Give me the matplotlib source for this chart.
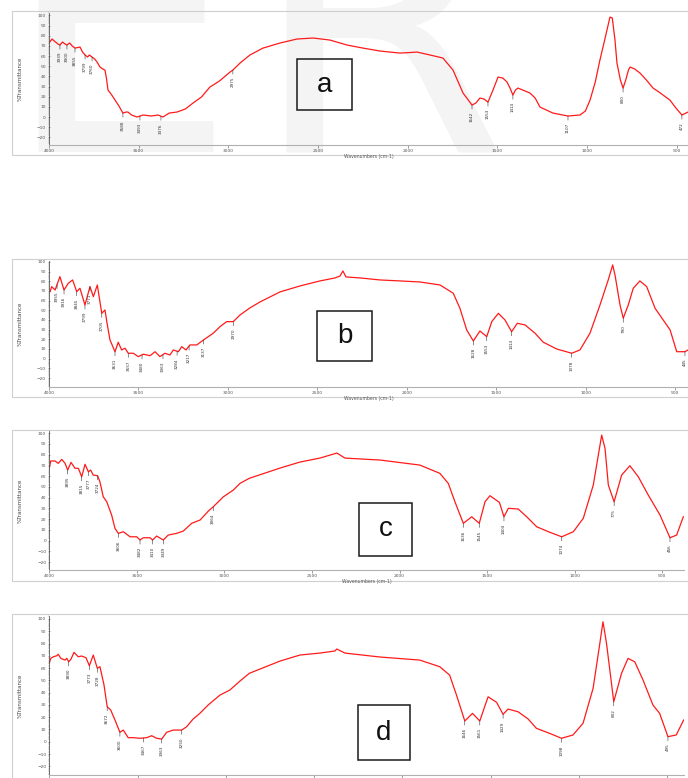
import numpy as np
import matplotlib.pyplot as plt
from matplotlib.patches import Rectangle
from matplotlib.ticker import MultipleLocator

# ---- spectrum a ----
wn_a = [4000, 3983, 3970, 3950, 3939, 3925, 3910, 3900, 3885, 3870, 3855, 3827, 3813, 3799,
        3785, 3775, 3760, 3745, 3732, 3716, 3700, 3688, 3680, 3671, 3650, 3632, 3610, 3588,
        3570, 3560, 3540, 3509, 3476, 3430, 3392, 3365, 3330, 3287, 3240, 3197, 3150, 3103,
        3050, 2991, 2975, 2935, 2880, 2807, 2712, 2618, 2528, 2434, 2339, 2250, 2155, 2044,
        1990, 1949, 1876, 1804, 1748, 1692, 1642, 1620, 1598, 1575, 1553, 1525, 1497, 1470,
        1447, 1430, 1414, 1400, 1386, 1319, 1290, 1263, 1191, 1107, 1040, 1010, 984, 955,
        929, 900, 873, 860, 845, 834, 815, 800, 785, 770, 761, 735, 706, 670, 633, 600, 539,
        505, 472, 450, 438]
tr_a = [72.8, 76.7, 74.7, 71.8, 70.8, 73.7, 71.8, 70.8, 72.8, 69.8, 67.8, 68.8, 63.9, 61.0,
        59.0, 61.0, 59.0, 57.0, 54.0, 49.2, 47.2, 46.2, 38.3, 26.5, 21.6, 16.7, 10.8, 3.9,
        4.9, 4.9, 2.0, 0.0, 2.0, 1.0, 2.0, 0.0, 3.9, 4.9, 7.9, 13.8, 19.7, 29.5,
        35.4, 44.2, 46.2, 53.1, 61.0, 67.8, 72.8, 76.7, 77.7, 75.7, 70.8, 67.8, 64.9, 62.9,
        63.4, 63.9, 61.0, 58.0, 46.2, 23.6, 11.8, 13.8, 18.7, 17.7, 14.7, 26.5, 39.3, 38.3,
        34.4, 28.5, 21.6, 26.5, 28.5, 23.6, 18.7, 9.8, 3.9, 1.0, 2.0, 5.9, 16.7, 34.4,
        56.0, 77.7, 98.3, 97.3, 75.7, 53.1, 36.4, 28.5, 36.4, 46.2, 49.2, 47.2, 43.3, 36.4,
        28.5, 24.6, 16.7, 8.8, 2.0, 3.9, 4.9]
peaks_a = [3939, 3900, 3855, 3799, 3760, 3588, 3493, 3376, 2975, 1642, 1553, 1414, 1107, 800, 472]

# ---- spectrum b ----
wn_b = [3994, 3985, 3966, 3939, 3916, 3892, 3868, 3845, 3827, 3799, 3771, 3752, 3730, 3705,
        3687, 3677, 3659, 3631, 3613, 3594, 3575, 3557, 3529, 3501, 3473, 3435, 3407, 3380,
        3352, 3324, 3305, 3277, 3258, 3234, 3212, 3174, 3137, 3082, 3044, 3007, 2970, 2932,
        2880, 2821, 2709, 2597, 2485, 2401, 2373, 2357, 2340, 2261, 2150, 2038, 1926, 1814,
        1740, 1703, 1665, 1628, 1591, 1553, 1525, 1488, 1451, 1414, 1382, 1339, 1283, 1237,
        1162, 1078, 1032, 976, 920, 874, 849, 836, 808, 790, 762, 734, 697, 659, 612, 528,
        491, 445, 428]
tr_b = [69.3, 74.5, 71.0, 84.8, 71.0, 78.0, 81.4, 69.3, 72.8, 55.5, 74.5, 64.1, 76.2, 46.9,
        50.4, 38.3, 19.3, 7.2, 17.0, 9.0, 10.8, 5.6, 5.6, 2.1, 4.6, 3.1, 7.2, 2.1,
        5.6, 3.8, 9.0, 7.2, 12.4, 9.0, 14.2, 14.2, 19.3, 26.3, 33.1, 38.3, 38.3, 45.2,
        52.1, 58.6, 69.0, 75.2, 80.4, 83.5, 85.5, 90.7, 84.5, 83.5, 81.4, 80.4, 79.3, 76.2,
        67.6, 52.1, 29.7, 18.3, 28.6, 22.8, 38.3, 46.9, 40.0, 27.9, 36.6, 34.9, 26.3, 17.0,
        10.0, 5.6, 9.0, 26.3, 55.5, 81.4, 96.9, 86.6, 55.5, 41.8, 55.5, 72.8, 80.4, 74.5,
        52.1, 29.7, 7.2, 7.2, 9.0]
peaks_b = [3955, 3916, 3845, 3799, 3771, 3705, 3631, 3557, 3480, 3363, 3284, 3217, 3137, 2970,
           1628, 1553, 1414, 1078, 790, 445]

# ---- spectrum c ----
wn_c = [4000, 3992, 3967, 3949, 3929, 3910, 3895, 3876, 3853, 3834, 3815, 3796, 3777, 3764,
        3749, 3724, 3711, 3692, 3672, 3644, 3625, 3606, 3577, 3539, 3501, 3482, 3463, 3425,
        3410, 3387, 3349, 3321, 3273, 3235, 3187, 3139, 3092, 3064, 3006, 2949, 2911, 2858,
        2683, 2569, 2455, 2358, 2312, 2112, 1884, 1770, 1722, 1684, 1636, 1588, 1545, 1512,
        1484, 1430, 1404, 1379, 1322, 1274, 1217, 1141, 1074, 1008, 951, 894, 846, 827, 808,
        775, 732, 685, 637, 580, 513, 456, 418, 380]
tr_c = [67.2, 74.0, 74.0, 71.8, 75.5, 71.8, 65.6, 72.7, 67.2, 67.2, 59.3, 70.9, 64.0, 65.6,
        60.9, 60.3, 54.7, 40.7, 36.1, 23.7, 11.3, 6.7, 8.2, 3.5, 3.5, 0.5, 2.6, 2.6,
        0.5, 4.2, 0.5, 5.1, 6.7, 8.8, 16.0, 19.1, 27.4, 31.4, 40.7, 47.0, 53.2, 57.9,
        67.4, 73.0, 76.7, 81.4, 76.7, 74.9, 70.2, 62.5, 53.2, 36.1, 16.0, 22.1, 16.0, 36.1,
        41.7, 35.5, 22.1, 30.0, 29.3, 22.1, 12.8, 7.6, 3.5, 8.2, 20.7, 51.6, 98.1, 85.8, 51.6,
        36.1, 60.9, 69.6, 59.3, 42.3, 23.7, 2.6, 5.1, 22.1]
peaks_c = [3895, 3815, 3777, 3724, 3606, 3482, 3410, 3349, 3064, 1636, 1545, 1404, 1074, 775, 456]

# ---- spectrum d ----
wn_d = [4000, 3992, 3977, 3958, 3949, 3935, 3911, 3901, 3890, 3877, 3860, 3836, 3817, 3792,
        3773, 3751, 3728, 3713, 3690, 3672, 3652, 3628, 3600, 3581, 3553, 3524, 3486, 3448,
        3420, 3392, 3363, 3335, 3298, 3250, 3222, 3185, 3147, 3100, 3033, 2977, 2920, 2867,
        2693, 2580, 2467, 2382, 2371, 2325, 2127, 1901, 1788, 1732, 1693, 1646, 1602, 1561,
        1514, 1466, 1429, 1401, 1344, 1287, 1240, 1165, 1098, 1033, 976, 919, 885, 863, 843,
        802, 758, 721, 683, 636, 580, 542, 495, 448, 406]
tr_d = [63.8, 67.9, 69.2, 70.0, 71.2, 67.9, 66.5, 67.9, 65.1, 67.3, 72.8, 69.2, 69.8, 68.4,
        61.9, 70.6, 59.8, 61.1, 46.2, 28.5, 25.8, 17.7, 7.7, 9.5, 3.3, 3.3, 2.8, 3.3,
        4.9, 2.8, 2.2, 7.7, 9.5, 9.5, 12.2, 18.5, 23.1, 29.9, 38.0, 42.1, 49.4, 55.7,
        65.7, 70.6, 72.2, 73.9, 75.5, 72.2, 69.0, 66.5, 61.1, 54.3, 38.0, 16.9, 23.1, 16.9,
        36.6, 32.1, 22.3, 26.6, 24.4, 18.5, 10.9, 6.8, 2.8, 5.5, 15.0, 43.5, 76.1, 97.7, 80.1,
        32.6, 55.7, 67.9, 65.1, 50.2, 29.9, 23.1, 4.1, 5.5, 17.7]
peaks_d = [3890, 3773, 3728, 3672, 3600, 3467, 3363, 3250, 1646, 1561, 1429, 1098, 802, 495]

W, H = 688, 778

fig = plt.figure(figsize=(W / 100, H / 100), dpi=100)
fig.patch.set_facecolor('white')

# faint watermark letters behind the top spectrum
fig.text(2 / W, 1 - 152 / H, 'E', fontsize=268, color='#f4f4f4', family='DejaVu Sans',
         ha='left', va='baseline', zorder=-5)
fig.text(250 / W, 1 - 152 / H, 'R', fontsize=268, color='#f4f4f4', family='DejaVu Sans',
         ha='left', va='baseline', zorder=-5)


def box_px(x0, y0, x1, y1, **kw):
    r = Rectangle((x0 / W, 1 - y1 / H), (x1 - x0) / W, (y1 - y0) / H,
                  transform=fig.transFigure, fill=False, **kw)
    fig.patches.append(r)


def spectrum(wn, tr, peaks, letter, geom, frame, lbox, xlim, ylim):
    left, top, right, bottom = geom
    box_px(12, frame[0], 700, frame[1], edgecolor='#cfcfcf', lw=0.8, zorder=-1)

    ax = fig.add_axes([left / W, 1 - bottom / H, (right - left) / W, (bottom - top) / H])
    ax.set_facecolor('none')
    ax.plot(wn, tr, color='#ff1a1a', lw=0.9)
    ax.set_xlim(*xlim)
    ax.set_ylim(*ylim)

    for s in ['top', 'right']:
        ax.spines[s].set_visible(False)
    ax.spines['left'].set_color('#555555')
    ax.spines['bottom'].set_color('#b0b0b0')
    ax.spines['left'].set_linewidth(0.6)
    ax.spines['bottom'].set_linewidth(0.8)

    ax.xaxis.set_minor_locator(MultipleLocator(100))
    ax.yaxis.set_minor_locator(MultipleLocator(2))
    ax.set_yticks(np.arange(-20, 101, 10))
    ax.set_xticks(np.arange(4000, xlim[1] - 1, -500))
    ax.tick_params(axis='both', which='major', labelsize=3.2, length=2, width=0.4,
                   colors='#555555', pad=1.2)
    ax.tick_params(axis='both', which='minor', length=1, width=0.3, colors='#777777')
    ax.tick_params(axis='y', direction='inout')
    ax.set_xlabel('Wavenumbers (cm-1)', fontsize=3.3, color='#555555', labelpad=0.3)
    ax.set_ylabel('%Transmittance', fontsize=4, color='#444444', labelpad=10)

    # peak markers with vertical wavenumber labels
    for p in peaks:
        v = np.interp(p, wn[::-1], tr[::-1])
        ax.annotate(str(p), xy=(p, v), xytext=(0, -5), textcoords='offset points',
                    rotation=90, ha='center', va='top', fontsize=3.0, color='#333333',
                    arrowprops=dict(arrowstyle='-', lw=0.4, color='#333333',
                                    shrinkA=0, shrinkB=0))

    # sample letter in its box
    x0, y0, x1, y1 = lbox
    box_px(x0, y0, x1, y1, edgecolor='#1a1a1a', lw=1.1, zorder=5)
    fig.text((x0 + x1) / 2 / W, 1 - (y0 + y1) / 2 / H, letter, fontsize=20,
             family='Liberation Sans', ha='center', va='center', color='#111111')
    return ax


spectrum(wn_a, tr_a, peaks_a, 'a', (49, 13, 688, 145), (11, 155), (297, 59, 352, 110),
         (4000, 438), (-27.5, 102.3))
spectrum(wn_b, tr_b, peaks_b, 'b', (49, 261, 688, 387), (259, 397), (317, 311, 372, 361),
         (4000, 428), (-29.3, 101.0))
spectrum(wn_c, tr_c, peaks_c, 'c', (49.3, 431, 684, 570), (430, 581), (359, 503, 412, 556),
         (4000, 376), (-27.4, 101.9))
spectrum(wn_d, tr_d, peaks_d, 'd', (49.3, 616, 684, 775), (614, 790), (358, 705, 410, 760),
         (4000, 404), (-27.1, 102.4))

fig.savefig('out.png', dpi=100, facecolor='white')
